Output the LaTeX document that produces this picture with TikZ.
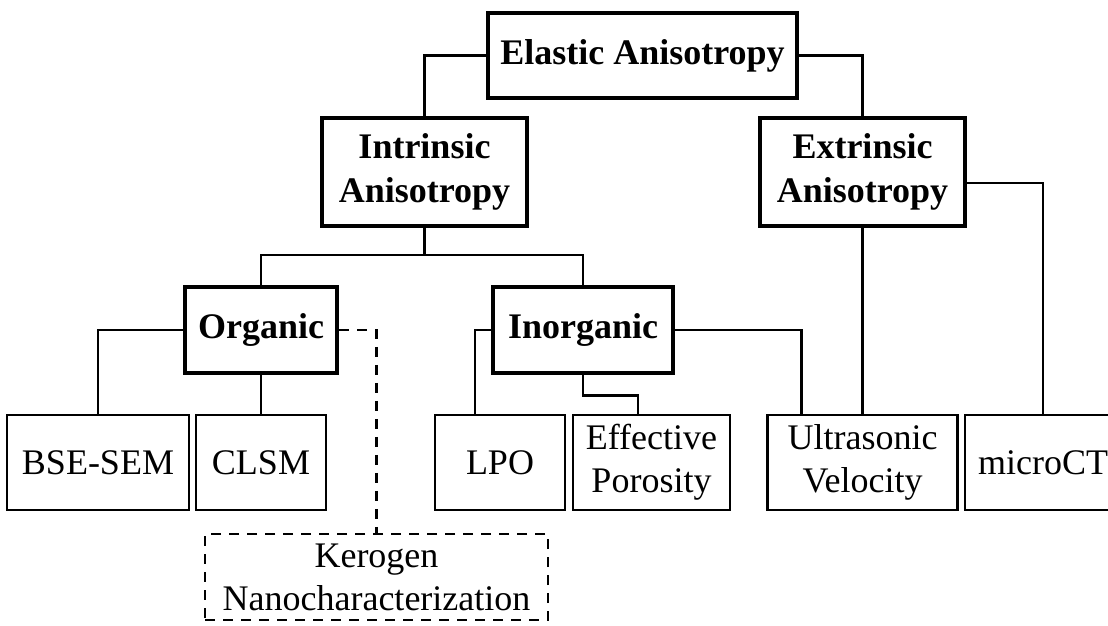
\documentclass[tikz,border=0pt]{standalone}
\usepackage{fontspec}
\setmainfont{Liberation Serif}
\usetikzlibrary{calc}

\begin{document}
\begin{tikzpicture}[x=1pt,y=-1pt,
	catbox/.style={draw,line width=4.8pt,align=center,inner sep=0pt,font=\fontsize{36}{44}\selectfont\bfseries},
	methodbox/.style={draw,line width=2.5pt,align=center,inner sep=0pt,font=\fontsize{36}{43}\selectfont},
	kerobox/.style={methodbox,line width=2.8pt,dash pattern=on 10pt off 8pt},
	wire/.style={line width=2.4pt},
	dashwire/.style={wire,line width=2.6pt,dash pattern=on 10pt off 8pt}]
				\path[fill=white,use as bounding box] (0,0) rectangle (1108,626);
				
				\node[catbox,minimum width=309pt,minimum height=85pt] (elastic) at (642.5,55.5) {Elastic Anisotropy};
				\node[catbox,minimum width=205pt,minimum height=108pt] (intrinsic) at (424.5,172) {Intrinsic\\Anisotropy};
				\node[catbox,minimum width=205pt,minimum height=108pt] (extrinsic) at (862.5,172) {Extrinsic\\Anisotropy};
				\node[catbox,minimum width=152pt,minimum height=86pt] (organic) at (261,330) {Organic};
				\node[catbox,minimum width=180pt,minimum height=86pt] (inorganic) at (583,330) {Inorganic};
				
				\node[methodbox,minimum width=182pt,minimum height=95pt] (bsesem) at (98,462.5) {BSE-SEM};
				\node[methodbox,minimum width=130pt,minimum height=95pt] (clsm) at (261,462.5) {CLSM};
				\node[methodbox,minimum width=130pt,minimum height=95pt] (lpo) at (500,462.5) {LPO};
				\node[methodbox,minimum width=157pt,minimum height=95pt] (effpor) at (651.5,462.5) {Effective\\Porosity};
				\node[methodbox,minimum width=190pt,minimum height=95pt] (ultra) at (862.5,462.5) {Ultrasonic\\Velocity};
				\node[methodbox,minimum width=156pt,minimum height=95pt] (microct) at (1043,462.5) {microCT};
				\node[kerobox,minimum width=343pt,minimum height=86pt] (kerogen) at (376.5,577) {Kerogen\\Nanocharacterization};
				
				\coordinate (ibus) at (424.5,255);
				
				\draw[wire] (elastic.west) -| (intrinsic.north);
				\draw[wire] (elastic.east) -| (extrinsic.north);
				\draw[wire] (intrinsic.south) -- (ibus);
				\draw[wire] (organic.north) |- (ibus) -| (inorganic.north);
				\draw[wire] (organic.west) -| (bsesem.north);
				\draw[wire] (organic.south) -- (clsm.north);
				\draw[dashwire] (organic.east) -| (kerogen.north);
				\draw[wire] (inorganic.west) -| ([xshift=-25pt]lpo.north);
				\draw[wire] (inorganic.south) -- ++(0,20) -| ([xshift=-13.5pt]effpor.north);
				\draw[wire] (inorganic.east) -| ([xshift=-61pt]ultra.north);
				\draw[wire] (extrinsic.south) -- (ultra.north);
				\draw[wire] ([yshift=-11pt]extrinsic.east) -| (microct.north);
			\end{tikzpicture}
\end{document}
